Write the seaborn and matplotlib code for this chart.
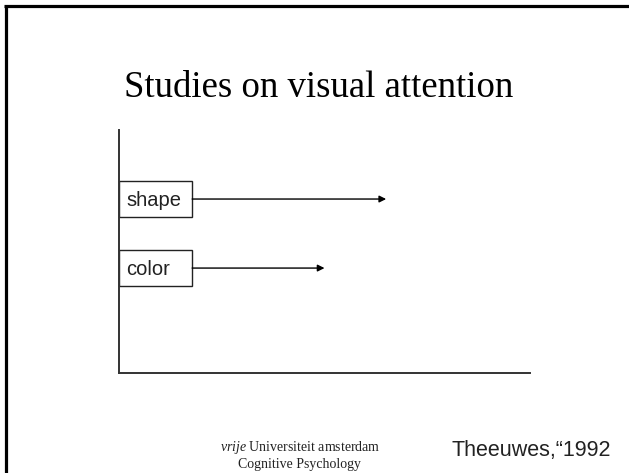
import matplotlib.pyplot as plt
import seaborn as sns
from matplotlib.patches import Rectangle
from matplotlib.lines import Line2D

# Search tasks (Theeuwes 1992) and arrow lengths in axis units (0-100)
features = ["shape", "color"]
arrow_end = [65, 50]
label_box_end = 17.8

sns.set_style("white")
plt.rcParams["font.family"] = ["Liberation Sans", "DejaVu Sans"]
plt.rcParams["mathtext.fontset"] = "custom"
plt.rcParams["mathtext.it"] = "Liberation Serif:italic"
plt.rcParams["mathtext.rm"] = "Liberation Serif"

W, H = 629, 473
fig = plt.figure(figsize=(W / 100, H / 100), dpi=100)
fig.patch.set_facecolor("white")

# slide frame (only top and left edges are visible)
fig.add_artist(Line2D([5.5 / W, 5.5 / W], [0, 1 - 6.5 / H], color="black",
                      lw=2.3, solid_capstyle="butt"))
fig.add_artist(Line2D([4.4 / W, 1], [1 - 6.5 / H, 1 - 6.5 / H], color="black",
                      lw=2.3, solid_capstyle="butt"))

ax = fig.add_axes([119 / W, (H - 373) / H, (530 - 119) / W, (373 - 130) / H])
ax.set_xlim(0, 100)
ax.set_ylim(len(features) + 0.52, -1.0)
sns.despine(ax=ax)
for side in ["left", "bottom"]:
    ax.spines[side].set_color("#333333")
    ax.spines[side].set_linewidth(1.4)
ax.set_xticks([])
ax.set_yticks([])

for i, (feat, end) in enumerate(zip(features, arrow_end)):
    ax.add_patch(Rectangle((0, i - 0.265), label_box_end, 0.53,
                           fill=False, edgecolor="#222222", lw=1.0, clip_on=False))
    ax.text(1.7, i + 0.02, feat, fontsize=14.5, va="center", ha="left", color="#222222")
    ax.annotate("", xy=(end, i), xytext=(label_box_end, i),
                arrowprops=dict(arrowstyle="-|>", color="black", lw=1.0,
                                mutation_scale=10, shrinkA=0, shrinkB=0))

fig.text(319 / W, 1 - 88 / H, "Studies on visual attention",
         family=["Liberation Serif", "DejaVu Serif"], fontsize=26.5,
         ha="center", va="center", color="black")

fig.text(300 / W, 1 - 447 / H, r"$\it{vrije}$ Universiteit amsterdam",
         family=["Liberation Serif", "DejaVu Serif"], fontsize=10,
         ha="center", va="center", color="#222222")
fig.text(300 / W, 1 - 464 / H, "Cognitive Psychology",
         family=["Liberation Serif", "DejaVu Serif"], fontsize=10,
         ha="center", va="center", color="#222222")

fig.text(611 / W, 1 - 450 / H, "Theeuwes,\u201c1992", fontsize=15.5,
         ha="right", va="center", color="#222222")

fig.savefig("out.png", dpi=100, facecolor="white")
